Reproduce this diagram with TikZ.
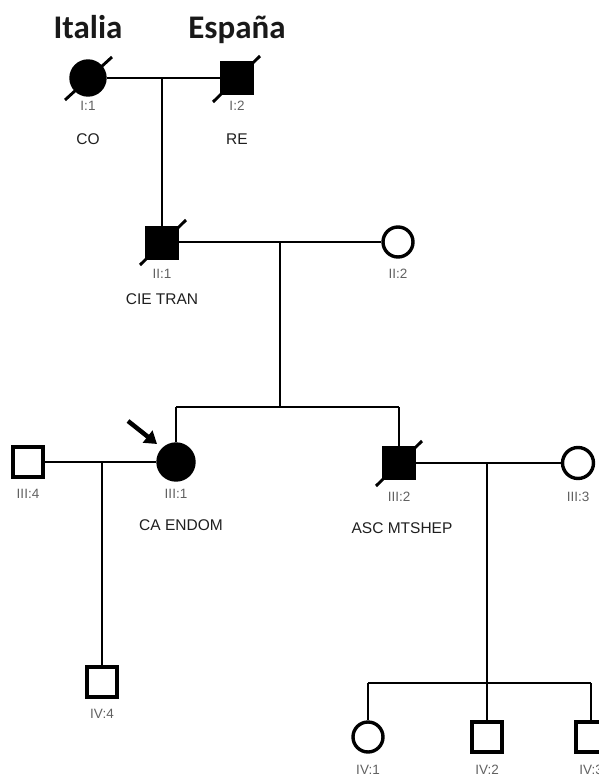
\documentclass[tikz,border=0pt]{standalone}
\usepackage{fontspec}
\setmainfont{Liberation Sans}
\newfontfamily\headfont{Carlito}
\usetikzlibrary{arrows.meta}
\begin{document}
\begin{tikzpicture}[x=1pt,y=-1pt,
  male/.style={draw=black,line width=3.4pt,minimum size=30pt,inner sep=0pt,rectangle},
  female/.style={draw=black,line width=3.4pt,minimum size=31pt,inner sep=0pt,circle},
  aff/.style={fill=black},
  rel/.style={line width=2.9pt},
  dec/.style={line width=2.9pt},
  idl/.style={anchor=base,font=\fontsize{13.5}{13.5}\selectfont,text=black!62},
  dx/.style={anchor=base,font=\fontsize{15.5}{15.5}\selectfont,text=black!88},
  country/.style={anchor=base,font=\headfont\bfseries\fontsize{33}{33}\selectfont,text=black!90}]
\useasboundingbox (0,0) rectangle (599,776);
% generation I
\node[country] (it) at (88,38) {Italia};
\node[country] (es) at (237,38) {España};
\node[female,aff,minimum size=34pt] (I1) at (88,78) {};
\node[male,aff,minimum size=31pt] (I2) at (237,78) {};
\draw[dec] ([shift={(-23,22)}]I1.center) -- ([shift={(24,-21)}]I1.center);
\draw[dec] ([shift={(-24,24)}]I2.center) -- ([shift={(23,-22)}]I2.center);
\node[idl] (lI1) at (88,110) {I:1};
\node[idl] (lI2) at (237,110) {I:2};
\node[dx] (dI1) at (88,144) {CO};
\node[dx] (dI2) at (237,144) {RE};
\draw[rel] (I1) -- (I2);
\coordinate (m1) at (162,78);
% generation II
\node[male,aff,minimum size=31pt] (II1) at (162,243) {};
\draw[dec] ([shift={(-22,22)}]II1.center) -- ([shift={(24,-23)}]II1.center);
\node[female,minimum size=30pt] (II2) at (398,242) {};
\node[idl] (lII1) at (162,278) {II:1};
\node[idl] (lII2) at (398,278) {II:2};
\node[dx] (dII1) at (162,304) {CIE TRAN};
\draw[rel] (m1) -- (II1);
\draw[rel] (II1.east |- II2.center) -- (II2);
\coordinate (m2) at (280,242);
\coordinate (s3) at (280,407);
\coordinate (s3a) at (176,407);
\coordinate (s3b) at (399,407);
% generation III
\node[male] (III4) at (28,462) {};
\node[female,aff,minimum size=36pt] (III1) at (176,462) {};
\node[male,aff,minimum size=31pt] (III2) at (399,463) {};
\draw[dec] ([shift={(-23,23)}]III2.center) -- ([shift={(23,-22)}]III2.center);
\node[female,minimum size=31pt] (III3) at (578,463) {};
\node[idl] (lIII4) at (28,498) {III:4};
\node[idl] (lIII1) at (176,498) {III:1};
\node[idl] (lIII2) at (399,501) {III:2};
\node[idl] (lIII3) at (578,501) {III:3};
\node[dx] (dIII1) at (181,530) {CA ENDOM};
\node[dx] (dIII2) at (402,533) {ASC MTSHEP};
\draw[rel] (m2) -- (s3);
\draw[rel] (s3a) -- (s3b);
\draw[rel] (s3a) -- (III1);
\draw[rel] (s3b) -- (III2);
\draw[rel] (III4) -- (III1);
\draw[rel] (III2) -- (III3);
\coordinate (pa) at (128,421);
\coordinate (pb) at (157,444);
\draw[line width=4.5pt,-{Triangle[length=12pt,width=15pt]}] (pa) -- (pb);
\coordinate (m3) at (102,462);
\coordinate (m4) at (487,463);
\coordinate (s4) at (487,683);
\coordinate (s4a) at (368,683);
\coordinate (s4b) at (591,683);
% generation IV
\node[male] (IV4) at (102,682) {};
\node[female,minimum size=30pt] (IV1) at (368,737) {};
\node[male] (IV2) at (487,737) {};
\node[male] (IV3) at (591,737) {};
\node[idl] (lIV4) at (102,718) {IV:4};
\node[idl] (lIV1) at (368,774) {IV:1};
\node[idl] (lIV2) at (487,774) {IV:2};
\node[idl] (lIV3) at (591,774) {IV:3};
\draw[rel] (m3) -- (IV4);
\draw[rel] (m4) -- (s4);
\draw[rel] (s4a) -- (s4b);
\draw[rel] (s4a) -- (IV1);
\draw[rel] (s4) -- (IV2);
\draw[rel] (s4b) -- (IV3);
\end{tikzpicture}
\end{document}
